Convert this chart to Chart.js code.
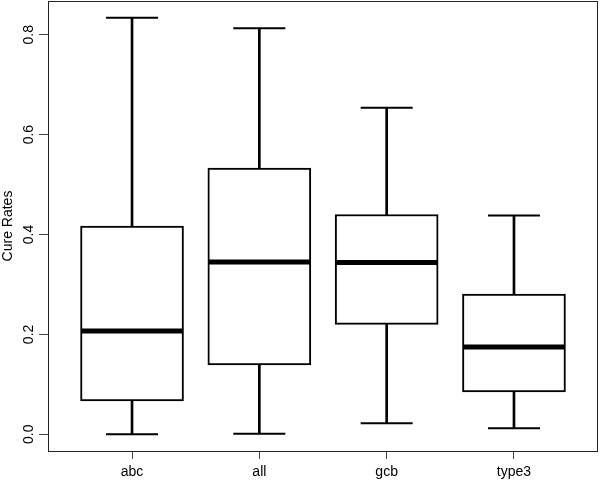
<!DOCTYPE html>
<html>
<head>
<meta charset="utf-8">
<script src="https://cdn.jsdelivr.net/npm/chart.js@4"></script>
<style>
  html, body { margin: 0; padding: 0; background: #fff; }
  #wrap { width: 600px; height: 480px; }
</style>
</head>
<body>
<div id="wrap"><canvas id="myChart" width="600" height="480"></canvas></div>
<script>
// box plot summary
const categories = ["abc", "all", "gcb", "type3"];
const minVals    = [0.000, 0.001, 0.022, 0.012];
const q1Vals     = [0.067, 0.139, 0.220, 0.085];
const medianVals = [0.207, 0.345, 0.344, 0.175];
const q3Vals     = [0.417, 0.533, 0.440, 0.281];
const maxVals    = [0.834, 0.813, 0.654, 0.438];
const yTicks     = [0, 0.2, 0.4, 0.6, 0.8];

const pos = categories.map((c, i) => i + 1);

// frame round the plot area, like R's box()
const framePlugin = {
  id: "frame",
  afterDraw(chart) {
    const a = chart.chartArea;
    const ctx = chart.ctx;
    ctx.save();
    ctx.strokeStyle = "#222";
    ctx.lineWidth = 1;
    ctx.strokeRect(Math.round(a.left) + 0.5, Math.round(a.top) + 0.5,
      Math.round(a.right - a.left) - 1, Math.round(a.bottom - a.top));
    ctx.restore();
  }
};

const ctx = document.getElementById("myChart").getContext("2d");

new Chart(ctx, {
  type: "bar",
  data: {
    datasets: [
      {
        type: "scatter",
        label: "median",
        order: 0,
        data: pos.map((x, i) => ({ x: x, y: medianVals[i] })),
        pointStyle: "line",
        pointRadius: 51,
        pointBorderWidth: 5,
        borderColor: "#000",
        backgroundColor: "#000"
      },
      {
        type: "scatter",
        label: "caps",
        order: 1,
        data: pos.map((x, i) => ({ x: x, y: maxVals[i] }))
          .concat(pos.map((x, i) => ({ x: x, y: minVals[i] }))),
        pointStyle: "line",
        pointRadius: 26,
        pointBorderWidth: 2,
        borderColor: "#000",
        backgroundColor: "#000"
      },
      {
        label: "box",
        order: 2,
        data: pos.map((x, i) => ({ x: x, y: [q1Vals[i], q3Vals[i]] })),
        backgroundColor: "#fff",
        borderColor: "#000",
        borderWidth: 2,
        borderSkipped: false,
        barThickness: 103,
        grouped: false
      },
      {
        label: "upper whisker",
        order: 3,
        data: pos.map((x, i) => ({ x: x, y: [q3Vals[i], maxVals[i]] })),
        backgroundColor: "#000",
        borderWidth: 0,
        barThickness: 2,
        grouped: false
      },
      {
        label: "lower whisker",
        order: 3,
        data: pos.map((x, i) => ({ x: x, y: [minVals[i], q1Vals[i]] })),
        backgroundColor: "#000",
        borderWidth: 0,
        barThickness: 2,
        grouped: false
      }
    ]
  },
  options: {
    responsive: false,
    animation: false,
    layout: { autoPadding: false, padding: { top: 1, right: 2, left: 0, bottom: 0 } },
    plugins: {
      legend: { display: false },
      tooltip: { enabled: false }
    },
    scales: {
      x: {
        type: "linear",
        min: 0.34,
        max: 4.66,
        offset: false,
        afterBuildTicks: (axis) => {
          axis.ticks = pos.map((v) => ({ value: v }));
        },
        afterFit: (axis) => {
          axis.height = 29;
          axis.paddingLeft = 0;
          axis.paddingRight = 0;
        },
        border: { display: false },
        grid: {
          offset: false,
          drawOnChartArea: false,
          drawTicks: true,
          tickLength: 8,
          color: "#444",
          lineWidth: 1
        },
        ticks: {
          color: "#000",
          font: { family: "'Liberation Sans', Arial, sans-serif", size: 14 },
          padding: 5,
          maxRotation: 0,
          callback: (v) => categories[v - 1] || ""
        }
      },
      y: {
        min: -0.0334,
        max: 0.8675,
        afterBuildTicks: (axis) => {
          axis.ticks = yTicks.map((v) => ({ value: v }));
        },
        afterFit: (axis) => {
          axis.width = 48;
          axis.paddingTop = 0;
          axis.paddingBottom = 0;
        },
        border: { display: false },
        grid: {
          drawOnChartArea: false,
          drawTicks: true,
          tickLength: 9,
          color: "#444",
          lineWidth: 1
        },
        ticks: {
          color: "#000",
          font: { family: "'Liberation Sans', Arial, sans-serif", size: 14 },
          padding: 0,
          crossAlign: "center",
          minRotation: 90,
          maxRotation: 90,
          callback: (v) => v.toFixed(1)
        },
        title: {
          display: true,
          text: "Cure Rates",
          color: "#000",
          font: { family: "'Liberation Sans', Arial, sans-serif", size: 14 },
          padding: 0
        }
      }
    }
  },
  plugins: [framePlugin]
});
</script>
</body>
</html>
